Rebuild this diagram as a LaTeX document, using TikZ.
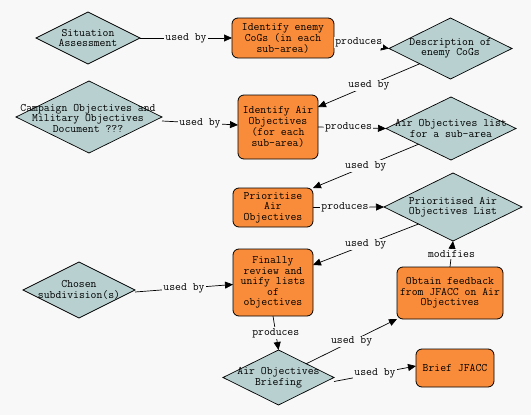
\documentclass[tikz,border=0pt]{standalone}
\usetikzlibrary{shapes.geometric,arrows.meta}
\definecolor{bg}{HTML}{F8F8F8}
\definecolor{dia}{HTML}{B8D0D0}
\definecolor{org}{HTML}{F98C3A}
\begin{document}
\begin{tikzpicture}[x=1pt,y=-1pt,
  every node/.style={font=\ttfamily\fontsize{11.4}{10.5}\selectfont, align=center},
  dnode/.style={diamond, draw=black, fill=dia, line width=0.7pt, inner sep=0pt, outer sep=0pt},
  dtext/.style={inner sep=0pt},
  bnode/.style={rectangle, rounded corners=6pt, draw=black, fill=org, line width=0.8pt, inner sep=0pt, outer sep=0pt},
  lbl/.style={fill=bg, inner sep=1pt},
  conn/.style={draw=black, line width=0.7pt, -{Triangle[length=8pt,width=7pt]}}]
\fill[bg] (0,0) rectangle (531,415);
\useasboundingbox (0,0) rectangle (531,415);
% diamonds
\node[dnode, minimum width=104pt, minimum height=52pt] (sa) at (88,38) {};
\node[dtext] (sat) at (sa) {Situation\\Assessment};
\node[dnode, minimum width=123pt, minimum height=61pt] (dc) at (450.5,48.5) {};
\node[dtext] (dct) at (dc) {Description of\\enemy CoGs};
\node[dnode, minimum width=146pt, minimum height=72pt] (cd) at (89,117) {};
\node[dtext] (cdt) at (88,118) {Campaign Objectives and\\Military Objectives\\Document ???};
\node[dnode, minimum width=130pt, minimum height=63pt] (al) at (451,128.5) {};
\node[dtext] (alt) at (al) {Air Objectives list\\for a sub-area};
\node[dnode, minimum width=138pt, minimum height=68pt] (pl) at (453,207) {};
\node[dtext] (plt) at (pl) {Prioritised Air\\Objectives List};
\node[dnode, minimum width=112pt, minimum height=56pt] (cs) at (79,290) {};
\node[dtext] (cst) at (cs) {Chosen\\subdivision(s)};
\node[dnode, minimum width=111pt, minimum height=55pt] (ab) at (278.5,377.5) {};
\node[dtext] (abt) at (ab) {Air Objectives\\Briefing};
% boxes
\node[bnode, minimum width=102pt, minimum height=40pt] (ce) at (283,38) {Identify enemy\\CoGs (in each\\sub-area)};
\node[bnode, minimum width=80pt, minimum height=64pt] (ia) at (278,127) {Identify Air\\Objectives\\(for each\\sub-area)};
\node[bnode, minimum width=80pt, minimum height=39pt] (pa) at (273,207.5) {Prioritise\\Air\\Objectives};
\node[bnode, minimum width=80pt, minimum height=67pt] (fr) at (273,282.5) {Finally\\review and\\unify lists\\of\\objectives};
\node[bnode, minimum width=106pt, minimum height=52pt] (ob) at (450,293) {Obtain feedback\\from JFACC on Air\\Objectives};
\node[bnode, minimum width=78pt, minimum height=38pt] (bj) at (455,368) {Brief JFACC};
% connectors
\draw[conn] (sa.east) -- node[lbl] (l1) {used by} (ce.west);
\draw[conn] (ce.east) -- node[lbl, pos=0.45] (l2) {produces} (dc.west);
\draw[conn] (dc.south west) -- node[lbl] (l3) {used by} ([yshift=-12pt]ia.north east);
\draw[conn] ([yshift=-4pt]cd.east) -- node[lbl] (l4) {used by} ([yshift=2pt]ia.west);
\draw[conn] (ia.east) -- node[lbl, pos=0.45] (l5) {produces} (al.west);
\draw[conn] (al.south west) -- node[lbl] (l6) {used by} (pa.north east);
\draw[conn] (pa.east) -- node[lbl, pos=0.45] (l7) {produces} (pl.west);
\draw[conn] (pl.south west) -- node[lbl] (l8) {used by} ([yshift=-16pt]fr.north east);
\draw[conn] ([yshift=-2pt]cs.east) -- node[lbl] (l9) {used by} ([yshift=-2pt]fr.west);
\draw[conn] (fr.south) -- node[lbl] (l10) {produces} (ab.north);
\draw[conn] (ab.north east) -- node[lbl] (l11) {used by} (ob.south west);
\draw[conn] ([yshift=-4pt]ab.east) -- node[lbl] (l12) {used by} ([yshift=2pt]bj.west);
\draw[conn] (ob.north) -- node[lbl] (l13) {modifies} (pl.south);
\end{tikzpicture}
\end{document}
